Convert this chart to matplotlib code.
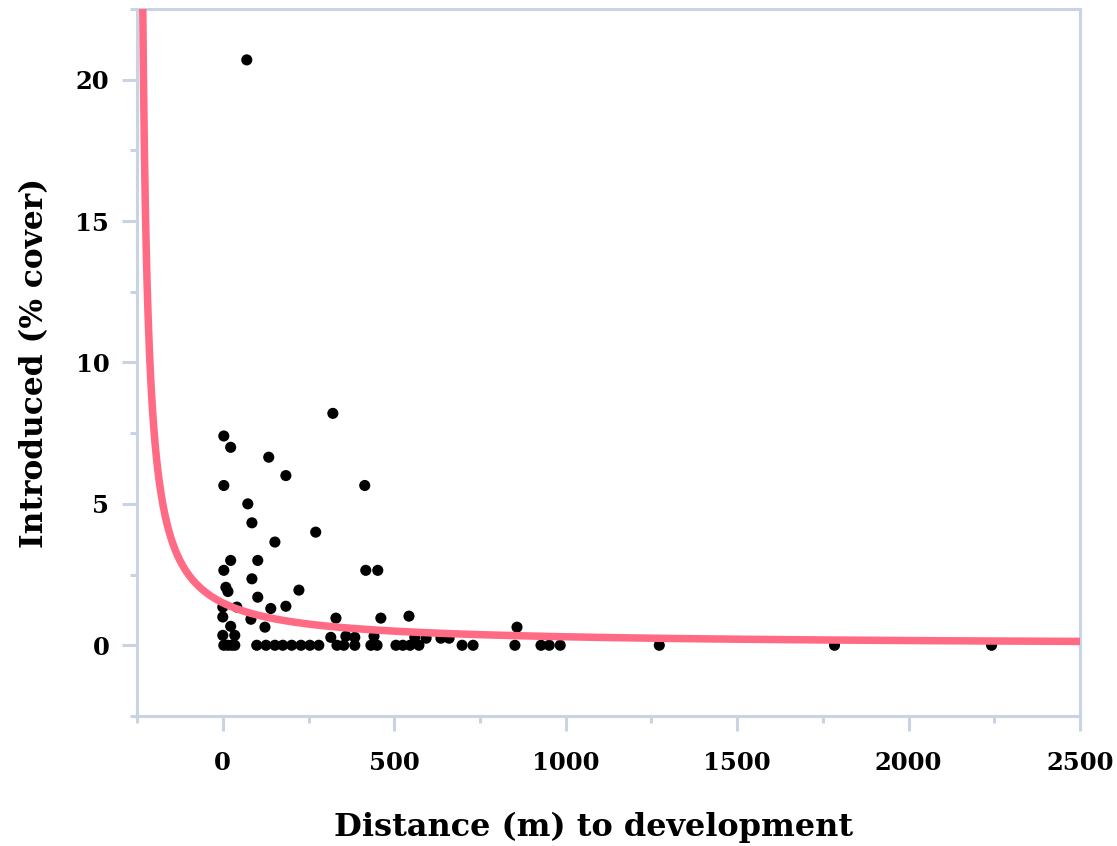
"""Introduced cover vs distance to development: scatter + fitted hyperbola."""
import matplotlib
matplotlib.use("Agg")
import matplotlib.pyplot as plt
import matplotlib.ticker as mticker
import numpy as np

# distance (m) to development and introduced cover (%) per plot
distance = [
    70, 321, 3, 23, 134, 184, 3, 414, 73, 85, 271, 152, 23, 102, 3, 417, 452,
    85, 9, 15, 222, 102, 0, 41, 140, 184, 0, 82, 330, 461, 543, 23, 123, 858,
    0, 35, 315, 359, 385, 441, 560, 593, 636, 660,
    3, 15, 26, 35, 99, 126, 152, 175, 201, 228, 254, 280, 333, 353, 385, 432,
    450, 505, 525, 546, 572, 698, 730, 852, 928, 952, 984, 1273, 1784, 2242,
]
introduced = [
    20.7, 8.2, 7.4, 7.0, 6.65, 6.0, 5.65, 5.65, 5.0, 4.33, 4.0, 3.65, 3.0, 3.0,
    2.65, 2.65, 2.65, 2.35, 2.05, 1.9, 1.95, 1.7, 1.35, 1.35, 1.3, 1.38, 1.0,
    0.92, 0.96, 0.96, 1.03, 0.67, 0.64, 0.64, 0.35, 0.35, 0.28, 0.32, 0.28,
    0.32, 0.28, 0.25, 0.25, 0.25,
    0, 0, 0, 0, 0, 0, 0, 0, 0, 0, 0, 0, 0, 0, 0, 0,
    0, 0, 0, 0, 0, 0, 0, 0, 0, 0, 0, 0, 0, 0,
]

# fitted curve: cover = FIT_A / (distance + FIT_B)
FIT_A = 375.0
FIT_B = 250.0

XLIM = (-250, 2500)
YLIM = (-2.5, 22.5)

SPINE = "#c8d4e3"
CURVE = "#ff6b84"

plt.rcParams["font.family"] = ["DejaVu Serif"]

fig = plt.figure(figsize=(11.17, 8.46), dpi=100)
ax = fig.add_axes([0.1227, 0.1537, 0.8442, 0.8357])

xs = np.linspace(XLIM[0] + 0.5, XLIM[1], 2000)
ax.plot(xs, FIT_A / (xs + FIT_B), color=CURVE, lw=5.4, zorder=3,
        solid_capstyle="butt")
ax.scatter(distance, introduced, s=64, color="black", edgecolors="none", zorder=2)

ax.set_xlim(*XLIM)
ax.set_ylim(*YLIM)
ax.xaxis.set_major_locator(mticker.MultipleLocator(500))
ax.xaxis.set_minor_locator(mticker.MultipleLocator(250))
ax.yaxis.set_major_locator(mticker.MultipleLocator(5))
ax.yaxis.set_minor_locator(mticker.MultipleLocator(2.5))

for s in ax.spines.values():
    s.set_color(SPINE)
    s.set_linewidth(2.2)

ax.tick_params(which="major", length=11, width=2.2, color=SPINE,
               labelsize=17.5, pad=9)
ax.tick_params(axis="x", which="major", pad=14)
ax.tick_params(which="minor", length=5, width=2.2, color=SPINE)
for lbl in ax.get_xticklabels() + ax.get_yticklabels():
    lbl.set_fontweight("bold")

ax.set_xlabel("Distance (m) to development", fontsize=23, fontweight="bold")
ax.xaxis.set_label_coords(0.484, -0.136)
ax.set_ylabel("Introduced (% cover)", fontsize=22.5, fontweight="bold",
              labelpad=18)

fig.savefig("out.png", dpi=100)
plt.close(fig)
